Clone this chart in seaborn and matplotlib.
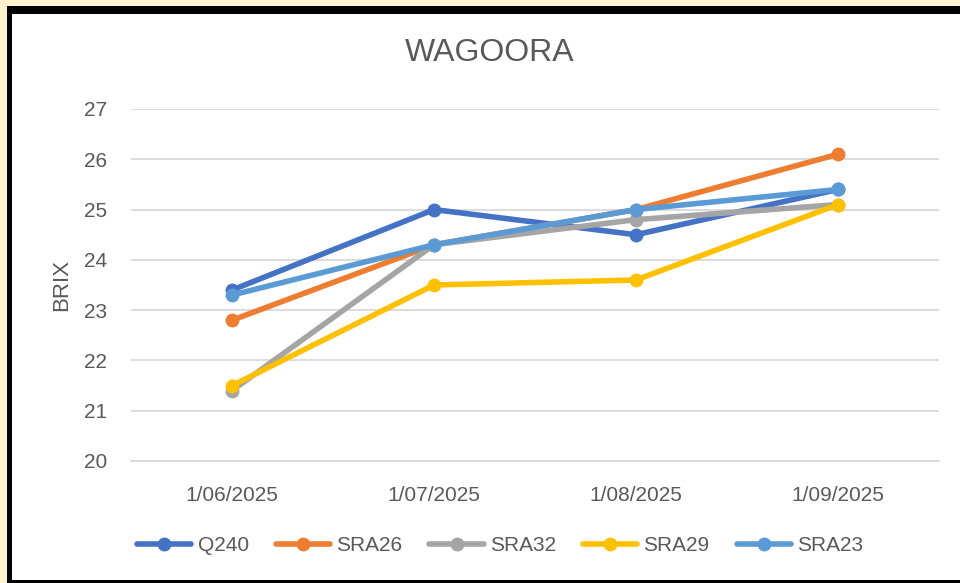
import matplotlib
matplotlib.use("Agg")
import matplotlib.pyplot as plt
import numpy as np
import pandas as pd
import seaborn as sns
from matplotlib.patches import Rectangle

dates = ["1/06/2025", "1/07/2025", "1/08/2025", "1/09/2025"]
varieties = ["Q240", "SRA26", "SRA32", "SRA29", "SRA23"]
q240 = [23.4, 25.0, 24.5, 25.4]
sra26 = [22.8, 24.3, 25.0, 26.1]
sra32 = [21.4, 24.3, 24.8, 25.1]
sra29 = [21.5, 23.5, 23.6, 25.1]
sra23 = [23.3, 24.3, 25.0, 25.4]
yticks = [20, 21, 22, 23, 24, 25, 26, 27]

colors = ["#4472C4", "#ED7D31", "#A5A5A5", "#FFC000", "#5B9BD5"]

sns.set_theme(style="white")
plt.rcParams["font.family"] = ["Liberation Sans", "DejaVu Sans"]

rows = []
for name, vals in zip(varieties, [q240, sra26, sra32, sra29, sra23]):
    for i, v in enumerate(vals):
        rows.append({"idx": i, "date": dates[i], "variety": name, "brix": v})
df = pd.DataFrame(rows)

fig = plt.figure(figsize=(9.6, 5.83), dpi=100)
fig.patch.set_facecolor("#FFF2CC")
# black frame + white chart area
fig.patches.append(Rectangle((7 / 960, 0), 1, 1 - 6 / 583, transform=fig.transFigure,
                             facecolor="black", edgecolor="none", zorder=-2))
fig.patches.append(Rectangle((12 / 960, 3 / 583), 1, 1 - 17 / 583, transform=fig.transFigure,
                             facecolor="white", edgecolor="none", zorder=-1))

ax = fig.add_axes([131 / 960, 1 - 461 / 583, 808 / 960, 352 / 583])
ax.set_facecolor("none")
sns.lineplot(data=df, x="idx", y="brix", hue="variety", hue_order=varieties,
             palette=colors, marker="o", markersize=10, markeredgewidth=0,
             linewidth=4, ax=ax, legend=True)

ax.set_xlim(-0.5, 3.5)
ax.set_ylim(20, 27)
ax.set_yticks(yticks)
ax.set_xticks(range(len(dates)))
ax.set_xticklabels(dates)
ax.set_xticks(np.arange(-0.5, 4, 1), minor=True)
ax.tick_params(axis="x", which="major", length=0, pad=18, labelsize=15, labelcolor="#595959")
ax.tick_params(axis="x", which="minor", length=8, width=1.2, color="#D9D9D9")
ax.tick_params(axis="y", length=0, pad=17, labelsize=15, labelcolor="#595959")
ax.yaxis.grid(True, color="#D9D9D9", linewidth=1.3)
ax.set_axisbelow(True)
for s in ["top", "right", "left"]:
    ax.spines[s].set_visible(False)
ax.spines["bottom"].set_color("#D9D9D9")
ax.spines["bottom"].set_linewidth(1.3)

ax.set_xlabel("")
ax.set_ylabel("BRIX", fontsize=16, color="#595959", labelpad=9)
fig.text(490 / 960, 1 - 53 / 583, "WAGOORA", ha="center", va="center",
         fontsize=23, color="#595959")

handles, labels = ax.get_legend_handles_labels()
ax.legend(handles, labels, loc="center", bbox_to_anchor=(0.457, -0.24), ncol=5,
          frameon=False, fontsize=15, labelcolor="#595959", handlelength=2.6,
          handletextpad=0.3, columnspacing=1.3)

fig.savefig("out.png", dpi=100)
